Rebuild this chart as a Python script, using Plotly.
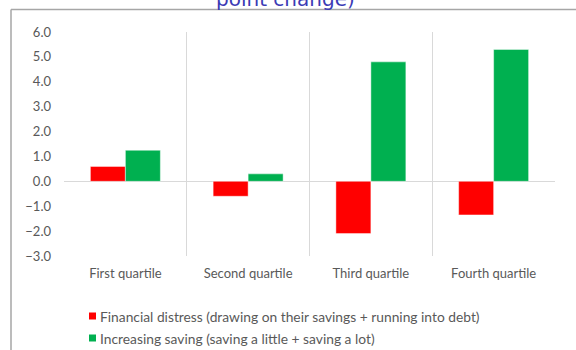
import plotly.graph_objects as go

# Income quartiles and change (percentage points) per series
categories = ["First quartile", "Second quartile", "Third quartile", "Fourth quartile"]
series_names = [
    "Financial distress (drawing on their savings + running into debt)",
    "Increasing saving (saving a little + saving a lot)",
]
distress = [0.6, -0.6, -2.1, -1.35]
saving = [1.25, 0.3, 4.8, 5.3]
series_values = [distress, saving]
series_colors = ["#FF0000", "#00B050"]

W, H = 576, 350
L, R, T, B = 64, 21, 32, 94
PW, PH = W - L - R, H - T - B


def px_x(x):
    return (x - L) / PW


def px_y(y):
    return (H - B - y) / PH


fig = go.Figure()
for name, vals, col in zip(series_names, series_values, series_colors):
    fig.add_trace(go.Bar(
        x=categories, y=vals, name=name,
        marker=dict(color=col, line=dict(color="rgba(255,255,255,0.45)", width=1)),
        showlegend=False,
    ))

FAM = "Lato, Open Sans, sans-serif"
GREY = "#595959"

fig.update_layout(
    width=W, height=H,
    margin=dict(l=L, r=R, t=T, b=B),
    paper_bgcolor="white", plot_bgcolor="white",
    barmode="group", bargap=0.43, bargroupgap=0,
    font=dict(family=FAM, size=13, color=GREY),
    xaxis=dict(
        type="category", tickson="boundaries", showgrid=True,
        gridcolor="#d9d9d9", gridwidth=1, showline=False, ticks="",
        zeroline=False, tickfont=dict(family=FAM, size=13, color=GREY),
        ticklabelstandoff=8,
    ),
    yaxis=dict(
        range=[-3, 6], dtick=1, tickformat=".1f", showgrid=False,
        zeroline=True, zerolinecolor="#d9d9d9", zerolinewidth=1,
        showline=False, ticks="", tickfont=dict(family=FAM, size=13, color=GREY),
        ticklabelstandoff=12,
    ),
)

# Title (only its lower line falls inside the canvas)
fig.add_annotation(
    text="point change)", xref="paper", yref="paper",
    x=px_x(285), y=px_y(-1), xanchor="center", yanchor="middle",
    showarrow=False, font=dict(family="DejaVu Sans, sans-serif", size=20, color="#3b3bb5"),
)

# Chart frame
frame = dict(color="#a6a6a6", width=1.5)
fig.add_shape(type="line", xref="paper", yref="paper",
              x0=px_x(11), x1=px_x(11), y0=px_y(9.5), y1=px_y(360), line=frame)
fig.add_shape(type="line", xref="paper", yref="paper",
              x0=px_x(11), x1=px_x(590), y0=px_y(9.5), y1=px_y(9.5), line=frame)

# Legend entries
legend_rows = [316, 338]
for name, col, yc in zip(series_names, series_colors, legend_rows):
    fig.add_shape(type="rect", xref="paper", yref="paper",
                  x0=px_x(89), x1=px_x(96), y0=px_y(yc - 3.5), y1=px_y(yc + 3.5),
                  fillcolor=col, line=dict(width=0))
    fig.add_annotation(text=name, xref="paper", yref="paper",
                       x=px_x(98), y=px_y(yc), xanchor="left", yanchor="middle",
                       showarrow=False, font=dict(family=FAM, size=13.8, color=GREY))

fig.write_html("out.html")
